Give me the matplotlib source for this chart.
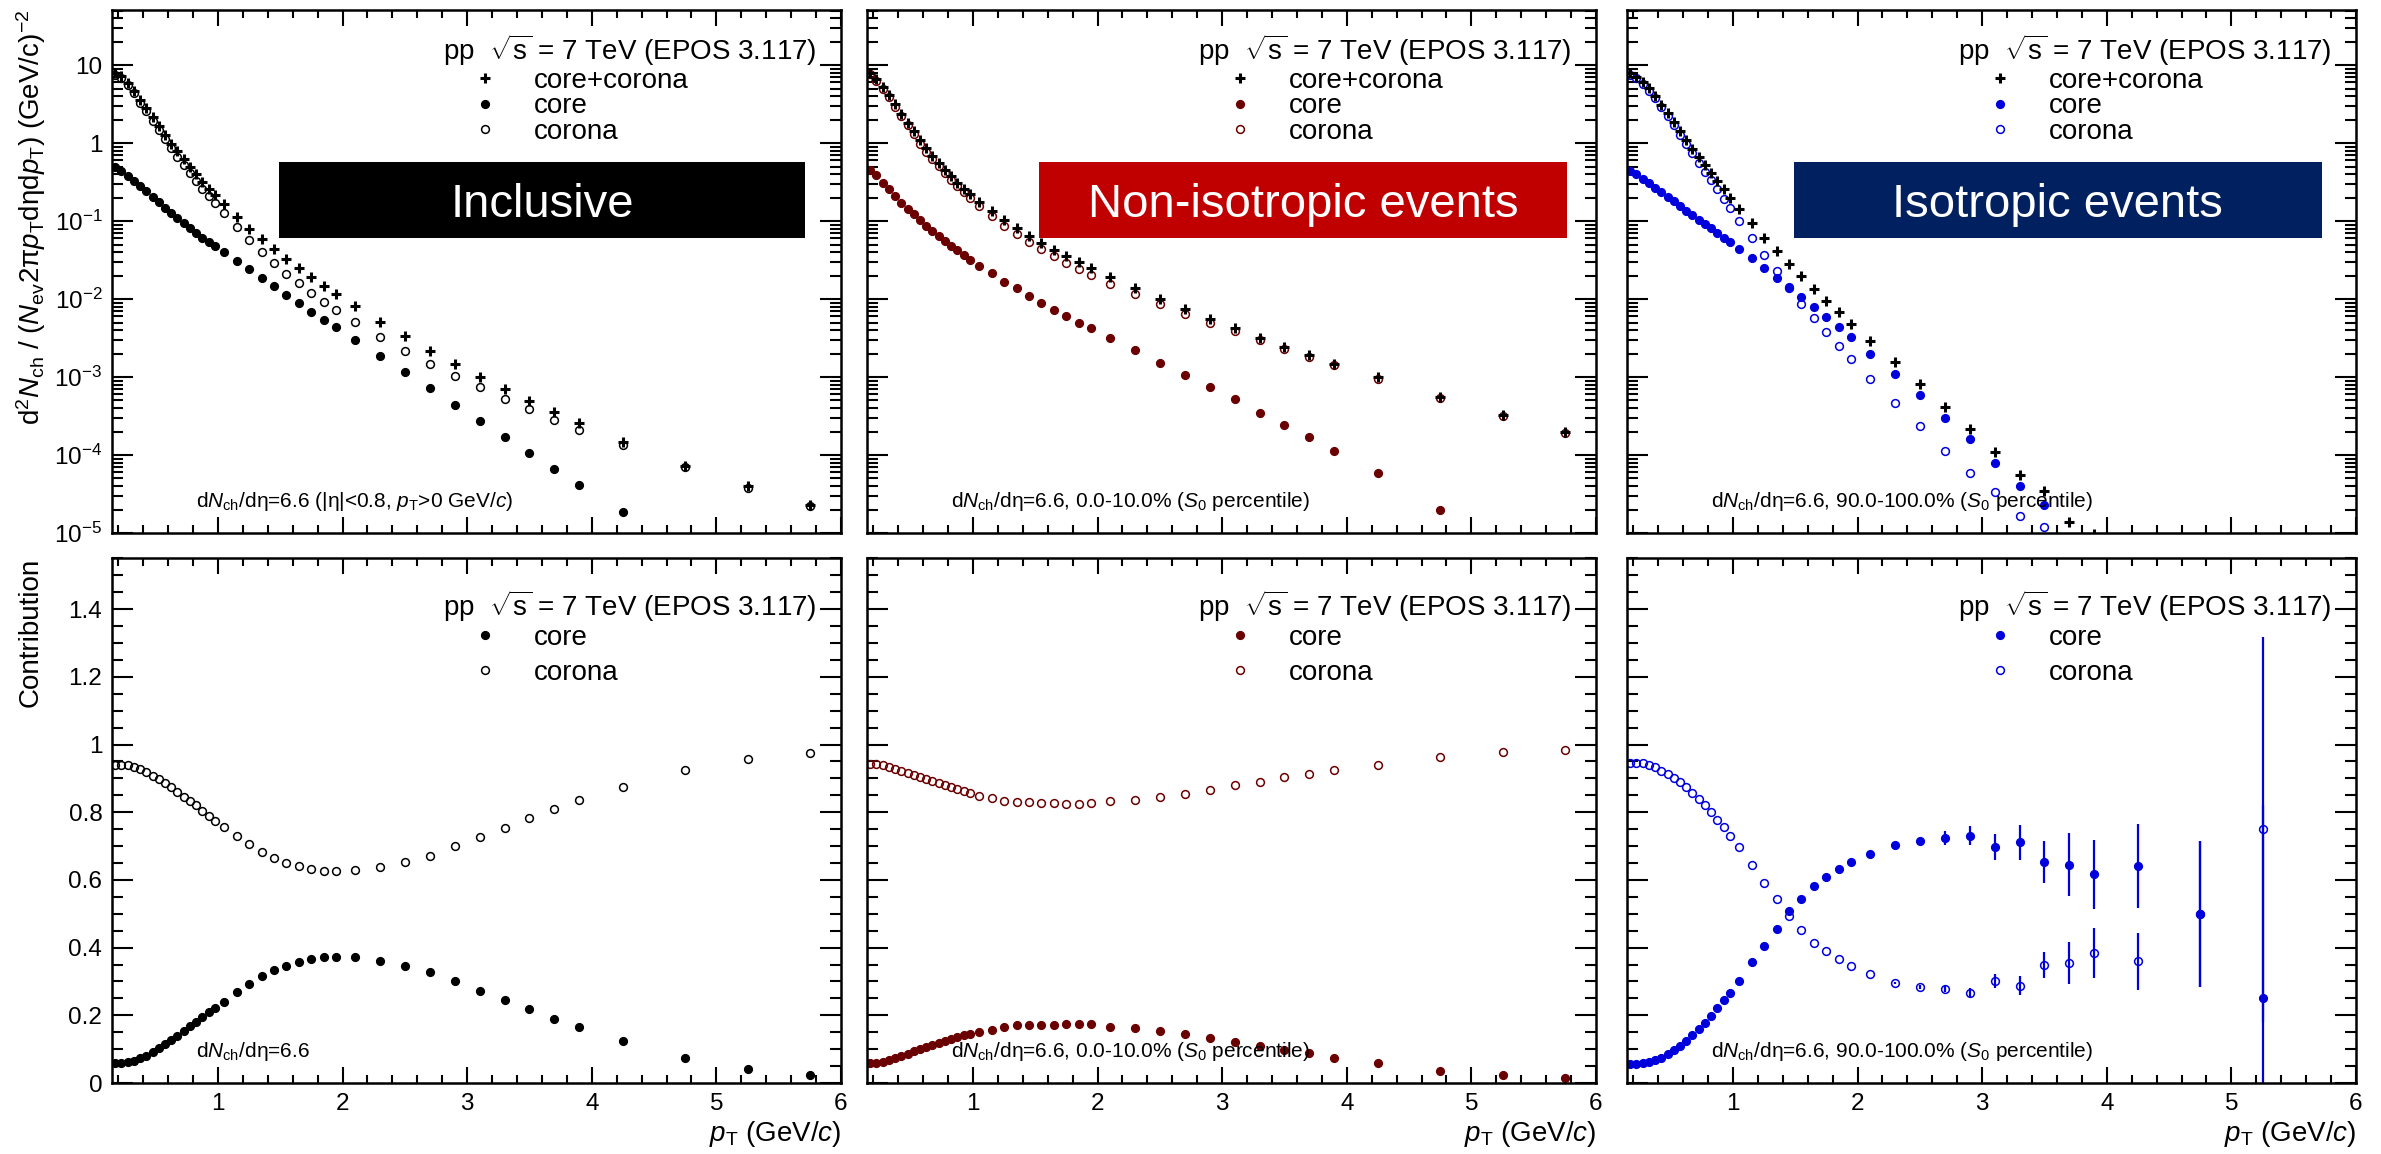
import numpy as np
import matplotlib
matplotlib.use("Agg")
import matplotlib.pyplot as plt
from matplotlib.patches import Rectangle
from matplotlib.ticker import (MultipleLocator, LogLocator, FixedLocator,
                               FixedFormatter, NullFormatter)

plt.rcParams['font.family'] = ['Liberation Sans', 'DejaVu Sans']
plt.rcParams['mathtext.fontset'] = 'custom'
plt.rcParams['mathtext.rm'] = 'Liberation Sans'
plt.rcParams['mathtext.it'] = 'Liberation Sans:italic'
plt.rcParams['mathtext.bf'] = 'Liberation Sans:bold'

nan = np.nan

# pT bin centres (GeV/c)
pt = [0.175, 0.225, 0.275, 0.325, 0.375, 0.425, 0.475, 0.525, 0.575, 0.625,
      0.675, 0.725, 0.775, 0.825, 0.875, 0.925, 0.975, 1.05, 1.15, 1.25,
      1.35, 1.45, 1.55, 1.65, 1.75, 1.85, 1.95, 2.1, 2.3, 2.5,
      2.7, 2.9, 3.1, 3.3, 3.5, 3.7, 3.9, 4.25, 4.75, 5.25, 5.75]

# ---- spectra, inclusive
incl_total = [8.0, 7.2, 5.9, 4.7, 3.55, 2.78, 2.13, 1.63, 1.26, 0.98,
              0.785, 0.62, 0.494, 0.398, 0.321, 0.261, 0.216, 0.164, 0.113, 0.080,
              0.059, 0.044, 0.0327, 0.025, 0.0192, 0.0149, 0.0117, 0.0081, 0.0051, 0.00333,
              0.00218, 0.00145, 0.00101, 0.0007, 0.000498, 0.000355, 0.000256, 0.000148, 7.2e-5, 3.95e-5, 2.3e-5]
incl_core = [0.494, 0.439, 0.375, 0.327, 0.282, 0.243, 0.204, 0.174, 0.149, 0.128,
             0.109, 0.0944, 0.0815, 0.0703, 0.0606, 0.0538, 0.0479, 0.0397, 0.031, 0.0243,
             0.0188, 0.0146, 0.0114, 0.0088, 0.0069, 0.0054, 0.00434, 0.00297, 0.00187, 0.00115,
             0.00072, 0.00044, 0.000273, 0.000169, 0.000107, 6.6e-5, 4.1e-5, 1.85e-5, nan, nan, nan]
incl_corona = [7.5, 6.8, 5.55, 4.4, 3.3, 2.57, 1.94, 1.49, 1.13, 0.86,
               0.67, 0.52, 0.41, 0.325, 0.258, 0.207, 0.168, 0.126, 0.084, 0.057,
               0.040, 0.029, 0.0212, 0.0159, 0.012, 0.0091, 0.0073, 0.0051, 0.0033, 0.00214,
               0.00148, 0.00103, 0.00074, 0.00052, 0.00039, 0.00028, 0.00021, 0.000133, 7.0e-5, 3.8e-5, 2.25e-5]

# ---- spectra, non-isotropic (0-10% S0)
jet_total = [7.97, 6.55, 5.27, 4.12, 3.16, 2.35, 1.82, 1.41, 1.09, 0.859,
             0.692, 0.557, 0.457, 0.375, 0.311, 0.261, 0.225, 0.175, 0.134, 0.103,
             0.0817, 0.0652, 0.0516, 0.043, 0.0354, 0.0296, 0.0247, 0.0191, 0.0139, 0.0101,
             0.00745, 0.00553, 0.0043, 0.0032, 0.00245, 0.0019, 0.00149, 0.00099, 0.000553, 0.000327, 0.000197]
jet_core = [0.457, 0.386, 0.308, 0.255, 0.210, 0.172, 0.144, 0.122, 0.104, 0.0873,
            0.0745, 0.0643, 0.0549, 0.0479, 0.0421, 0.0366, 0.0319, 0.0267, 0.0215, 0.0166,
            0.0137, 0.011, 0.0089, 0.0073, 0.0061, 0.005, 0.0042, 0.00313, 0.00225, 0.00152,
            0.00107, 0.00075, 0.00052, 0.000344, 0.000243, 0.000169, 0.000111, 5.96e-5, 1.99e-5, nan, nan]
jet_corona = [7.6, 6.2, 4.95, 3.84, 2.92, 2.19, 1.68, 1.29, 0.986, 0.771,
              0.621, 0.505, 0.414, 0.340, 0.282, 0.236, 0.200, 0.155, 0.116, 0.0863,
              0.0676, 0.054, 0.0432, 0.0354, 0.0289, 0.0245, 0.0203, 0.0157, 0.0116, 0.00863,
              0.00642, 0.00493, 0.00387, 0.00294, 0.0023, 0.00179, 0.00143, 0.00094, 0.000542, 0.00032, 0.000192]

# ---- spectra, isotropic (90-100% S0)
iso_total = [7.97, 7.08, 6.05, 5.01, 4.00, 3.12, 2.44, 1.87, 1.43, 1.11,
             0.851, 0.665, 0.525, 0.414, 0.327, 0.255, 0.200, 0.144, 0.0944, 0.0606,
             0.0412, 0.0282, 0.0195, 0.0136, 0.00938, 0.00684, 0.00482, 0.0029, 0.00154, 0.000818,
             0.000412, 0.000218, 0.00011, 5.6e-5, 3.44e-5, 1.37e-5, 9.8e-6, nan, nan, nan, nan]
iso_core = [0.440, 0.398, 0.350, 0.308, 0.268, 0.234, 0.204, 0.179, 0.156, 0.1346,
            0.118, 0.104, 0.0925, 0.0806, 0.0703, 0.0612, 0.0533, 0.0440, 0.0332, 0.0250,
            0.0187, 0.0142, 0.01066, 0.0080, 0.00596, 0.00434, 0.00323, 0.00197, 0.00109, 0.000583,
            0.0003, 0.000159, 7.8e-5, 4.03e-5, 2.26e-5, nan, nan, nan, nan, nan, nan]
iso_corona = [7.55, 6.75, 5.75, 4.7, 3.73, 2.89, 2.23, 1.69, 1.27, 0.975,
              0.735, 0.56, 0.43, 0.333, 0.255, 0.193, 0.146, 0.100, 0.0603, 0.0371,
              0.0228, 0.01374, 0.00863, 0.00565, 0.00374, 0.0025, 0.0017, 0.00094, 0.000458, 0.000233,
              0.000114, 5.8e-5, 3.33e-5, 1.63e-5, 1.2e-5, nan, nan, nan, nan, nan, nan]

# ---- contributions (fractions)
incl_fcore = [0.058, 0.060, 0.062, 0.066, 0.073, 0.081, 0.091, 0.103, 0.115, 0.127,
              0.140, 0.155, 0.167, 0.180, 0.194, 0.209, 0.223, 0.240, 0.268, 0.292,
              0.316, 0.333, 0.347, 0.358, 0.366, 0.372, 0.372, 0.372, 0.361, 0.347,
              0.328, 0.300, 0.272, 0.245, 0.219, 0.190, 0.164, 0.125, 0.075, 0.042, 0.025]
incl_fcorona = [0.940, 0.940, 0.939, 0.935, 0.928, 0.919, 0.908, 0.897, 0.885, 0.874,
                0.860, 0.846, 0.833, 0.820, 0.804, 0.790, 0.775, 0.756, 0.730, 0.705,
                0.683, 0.665, 0.651, 0.641, 0.633, 0.627, 0.627, 0.629, 0.638, 0.653,
                0.672, 0.699, 0.726, 0.754, 0.782, 0.809, 0.835, 0.874, 0.924, 0.957, 0.975]

jet_fcore = [0.058, 0.060, 0.063, 0.068, 0.073, 0.080, 0.087, 0.094, 0.100, 0.106,
             0.113, 0.119, 0.125, 0.131, 0.136, 0.141, 0.145, 0.151, 0.158, 0.165,
             0.170, 0.171, 0.172, 0.172, 0.175, 0.174, 0.174, 0.166, 0.163, 0.154,
             0.144, 0.133, 0.122, 0.110, 0.098, 0.088, 0.074, 0.060, 0.036, 0.023, 0.014]
jet_fcorona = [0.943, 0.942, 0.939, 0.935, 0.929, 0.923, 0.917, 0.910, 0.904, 0.898,
               0.892, 0.885, 0.879, 0.873, 0.868, 0.863, 0.858, 0.849, 0.842, 0.834,
               0.830, 0.829, 0.827, 0.827, 0.824, 0.825, 0.826, 0.834, 0.837, 0.846,
               0.855, 0.866, 0.880, 0.890, 0.904, 0.912, 0.925, 0.939, 0.964, 0.977, 0.985]

iso_fcore = [0.056, 0.056, 0.058, 0.062, 0.068, 0.075, 0.085, 0.098, 0.109, 0.125,
             0.141, 0.159, 0.178, 0.198, 0.222, 0.244, 0.266, 0.302, 0.356, 0.406,
             0.455, 0.507, 0.544, 0.582, 0.608, 0.631, 0.653, 0.677, 0.703, 0.715,
             0.723, 0.731, 0.698, 0.711, 0.652, 0.645, 0.617, 0.641, 0.499, 0.25, nan]
iso_fcore_err = [0, 0, 0, 0, 0, 0, 0, 0, 0, 0,
                 0, 0, 0, 0, 0, 0, 0, 0, 0, 0,
                 0, 0, 0, 0, 0, 0, 0, 0.004, 0.008, 0.010,
                 0.021, 0.029, 0.038, 0.052, 0.062, 0.094, 0.102, 0.125, 0.215, 0.57, nan]
iso_fcorona = [0.945, 0.945, 0.945, 0.939, 0.933, 0.923, 0.912, 0.901, 0.890, 0.875,
               0.858, 0.840, 0.821, 0.801, 0.777, 0.755, 0.731, 0.697, 0.643, 0.590,
               0.544, 0.492, 0.452, 0.415, 0.390, 0.367, 0.346, 0.322, 0.295, 0.284,
               0.277, 0.267, 0.302, 0.288, 0.348, 0.355, 0.383, 0.359, 0.50, 0.749, nan]
iso_fcorona_err = [0, 0, 0, 0, 0, 0, 0, 0, 0, 0,
                   0, 0, 0, 0, 0, 0, 0, 0, 0, 0,
                   0, 0, 0, 0, 0, 0, 0, 0, 0.004, 0.006,
                   0.009, 0.013, 0.021, 0.029, 0.039, 0.0625, 0.074, 0.084, 0.215, 0.57, nan]

labels = ['Inclusive', 'Non-isotropic events', 'Isotropic events']
box_colors = ['black', '#c00000', '#002060']
marker_colors = ['black', '#6b0000', '#0000dd']
box_x = [(0.229, 0.951), (0.236, 0.960), (0.229, 0.953)]
top_notes = [r'd$N_{\rm ch}$/dη=6.6 (|η|<0.8, $p_{\rm T}$>0 GeV/$c$)',
             r'd$N_{\rm ch}$/dη=6.6, 0.0-10.0% ($S_{0}$ percentile)',
             r'd$N_{\rm ch}$/dη=6.6, 90.0-100.0% ($S_{0}$ percentile)']
bot_notes = [r'd$N_{\rm ch}$/dη=6.6',
             r'd$N_{\rm ch}$/dη=6.6, 0.0-10.0% ($S_{0}$ percentile)',
             r'd$N_{\rm ch}$/dη=6.6, 90.0-100.0% ($S_{0}$ percentile)']
header = r'pp  $\sqrt{\mathrm{s}}$ = 7 TeV (EPOS 3.117)'

spectra = [(incl_total, incl_core, incl_corona),
           (jet_total, jet_core, jet_corona),
           (iso_total, iso_core, iso_corona)]
fractions = [(incl_fcore, None, incl_fcorona, None),
             (jet_fcore, None, jet_fcorona, None),
             (iso_fcore, iso_fcore_err, iso_fcorona, iso_fcorona_err)]

W, H = 2381, 1154
fig = plt.figure(figsize=(W / 100, H / 100), dpi=100)
lefts = [112, 867, 1627]
pw = 729

MS = 5.6


def frame(ax, log):
    ax.set_xlim(0.15, 6)
    ax.xaxis.set_major_locator(MultipleLocator(1))
    ax.xaxis.set_minor_locator(MultipleLocator(0.2))
    ax.tick_params(which='both', direction='in', top=True, right=True,
                   width=1.5, labelsize=17.5, pad=7)
    ax.tick_params(axis='x', which='major', length=11.5)
    ax.tick_params(axis='x', which='minor', length=6)
    ax.tick_params(axis='y', which='major', length=15)
    ax.tick_params(axis='y', which='minor', length=8)
    for sp in ax.spines.values():
        sp.set_linewidth(1.8)
    if log:
        ax.set_yscale('log')
        ax.set_ylim(1e-5, 50.8)
        ax.yaxis.set_major_locator(FixedLocator([1e-5, 1e-4, 1e-3, 1e-2, 1e-1, 1, 10]))
        ax.yaxis.set_minor_locator(LogLocator(base=10, subs=np.arange(2, 10), numticks=20))
        ax.yaxis.set_minor_formatter(NullFormatter())
    else:
        ax.set_ylim(0, 1.551)
        ax.yaxis.set_major_locator(MultipleLocator(0.2))
        ax.yaxis.set_minor_locator(MultipleLocator(0.05))


for i in range(3):
    col = marker_colors[i]
    x0 = lefts[i] / W

    # ---------------- top row: spectra
    ax = fig.add_axes([x0, 1 - 533 / H, pw / W, 523 / H])
    frame(ax, True)
    total, core, corona = spectra[i]
    h_core, = ax.plot(pt, core, 'o', ms=MS, color=col, mec=col, ls='none')
    h_cor, = ax.plot(pt, corona, 'o', ms=MS, mfc='none', mec=col, mew=1.1, ls='none')
    h_tot, = ax.plot(pt, total, '+', ms=6.5, color='black', mew=2.2, ls='none')
    ax.set_xticklabels([])
    if i == 0:
        ax.yaxis.set_major_formatter(FixedFormatter(
            ['10$^{-5}$', '10$^{-4}$', '10$^{-3}$', '10$^{-2}$', '10$^{-1}$', '1', '10']))
        ax.text(-0.111, 1.0,
                r'd$^{2}$$N_{\rm ch}$ / ($N_{\rm ev}$2π$p_{\rm T}$dηd$p_{\rm T}$) (GeV/c)$^{-2}$',
                transform=ax.transAxes, rotation=90, ha='center', va='top', fontsize=20)
    else:
        ax.set_yticklabels([])
    ax.text(0.967, 0.904, header, transform=ax.transAxes, ha='right', va='baseline', fontsize=20)
    ax.legend([h_tot, h_core, h_cor], ['core+corona', 'core', 'corona'],
              loc='upper left', bbox_to_anchor=(0.493, 0.889), frameon=False,
              fontsize=20, handlelength=1.0, handletextpad=1.25, labelspacing=-0.02,
              borderpad=0, borderaxespad=0, markerscale=1.0)
    bx0, bx1 = box_x[i]
    ax.add_patch(Rectangle((bx0, 0.564), bx1 - bx0, 0.145, transform=ax.transAxes,
                           facecolor=box_colors[i], edgecolor='none', zorder=5))
    ax.text((bx0 + bx1) / 2, 0.605, labels[i], transform=ax.transAxes, ha='center',
            va='baseline', color='white', fontsize=34, zorder=6)
    ax.text(0.115, 0.05, top_notes[i], transform=ax.transAxes, ha='left',
            va='baseline', fontsize=15)

    # ---------------- bottom row: contributions
    ax = fig.add_axes([x0, 1 - 1083 / H, pw / W, 525 / H])
    frame(ax, False)
    fcore, fcore_err, fcor, fcor_err = fractions[i]
    if fcore_err is None:
        h_cor, = ax.plot(pt, fcor, 'o', ms=MS, mfc='none', mec=col, mew=1.1, ls='none')
        h_core, = ax.plot(pt, fcore, 'o', ms=MS, color=col, ls='none')
    else:
        e1 = ax.errorbar(pt, fcor, yerr=fcor_err, fmt='o', ms=MS, mfc='none', mec=col,
                         mew=1.1, ecolor=col, elinewidth=1.6, capsize=0)
        e2 = ax.errorbar(pt, fcore, yerr=fcore_err, fmt='o', ms=MS, color=col,
                         ecolor=col, elinewidth=1.6, capsize=0)
        h_cor, h_core = e1[0], e2[0]
    ax.set_xticks([0, 1, 2, 3, 4, 5, 6])
    ax.set_xticklabels(['', '1', '2', '3', '4', '5', '6'])
    ax.set_xlim(0.15, 6)
    if i == 0:
        ax.yaxis.set_major_locator(FixedLocator([0, 0.2, 0.4, 0.6, 0.8, 1.0, 1.2, 1.4]))
        ax.yaxis.set_major_formatter(FixedFormatter(
            ['0', '0.2', '0.4', '0.6', '0.8', '1', '1.2', '1.4']))
        ax.text(-0.111, 1.0, 'Contribution', transform=ax.transAxes, rotation=90,
                ha='center', va='top', fontsize=20)
    else:
        ax.set_yticklabels([])
    ax.text(1.0, -0.11, r'$p_{\rm T}$ (GeV/$c$)', transform=ax.transAxes,
            ha='right', va='baseline', fontsize=20)
    ax.text(0.967, 0.889, header, transform=ax.transAxes, ha='right', va='baseline', fontsize=20)
    ax.legend([h_core, h_cor], ['core', 'corona'],
              loc='upper left', bbox_to_anchor=(0.493, 0.872), frameon=False,
              fontsize=20, handlelength=1.0, handletextpad=1.25, labelspacing=0.32,
              borderpad=0, borderaxespad=0)
    ax.text(0.115, 0.05, bot_notes[i], transform=ax.transAxes, ha='left',
            va='baseline', fontsize=15)

fig.savefig('out.png', dpi=100, facecolor='white')
